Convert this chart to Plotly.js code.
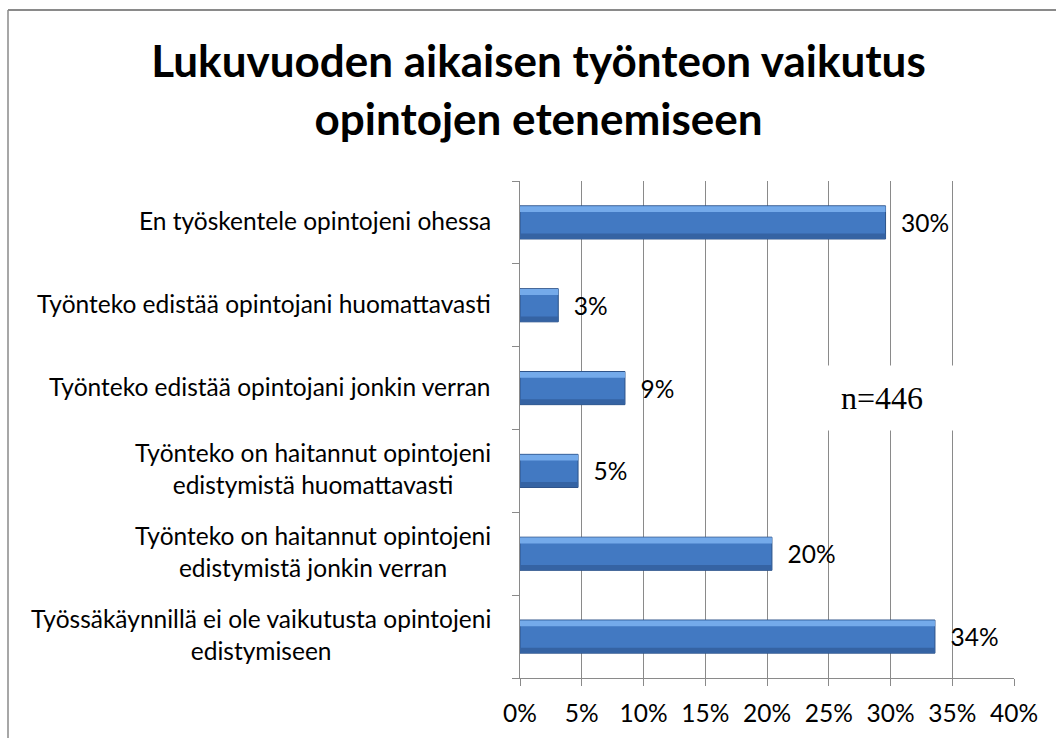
<!DOCTYPE html>
<html>
<head>
<meta charset="utf-8">
<script src="https://cdn.plot.ly/plotly-3.0.1.min.js"></script>
<style>html,body{margin:0;padding:0;background:#fff;}#chart{width:1056px;height:738px;}</style>
</head>
<body>
<div id="chart"></div>
<script>
// Data (shares of respondents, n=446)
const categories = [
  "En työskentele opintojeni ohessa",
  "Työnteko edistää opintojani huomattavasti",
  "Työnteko edistää opintojani jonkin verran",
  "Työnteko on haitannut opintojeni<br>edistymistä huomattavasti",
  "Työnteko on haitannut opintojeni<br>edistymistä jonkin verran",
  "Työssäkäynnillä ei ole vaikutusta opintojeni<br>edistymiseen"
];
const shares = [0.296, 0.031, 0.085, 0.047, 0.204, 0.336];
const xTickValues = [0, 0.05, 0.10, 0.15, 0.20, 0.25, 0.30, 0.35, 0.40];
const titleText = "Lukuvuoden aikaisen työnteon vaikutus<br>opintojen etenemiseen";
const noteText = "n=446";

const idx = categories.map((c, i) => i);
const labelFont = {family: "Lato, 'Open Sans', sans-serif", size: 24.5, color: "#000"};

const mainBar = {
  type: "bar", orientation: "h",
  x: shares, y: idx,
  width: 0.4,
  marker: {color: "#4279c2", line: {color: "#2c5288", width: 1}},
  texttemplate: "\u00A0\u00A0%{x:.0%}",
  textposition: "outside",
  constraintext: "none",
  cliponaxis: false,
  textfont: labelFont,
  hoverinfo: "skip"
};
const topHighlight = {
  type: "bar", orientation: "h",
  x: shares, y: idx,
  width: 0.07, offset: -0.195,
  marker: {color: "#74aaea", line: {width: 0}},
  hoverinfo: "skip"
};
const bottomShade = {
  type: "bar", orientation: "h",
  x: shares, y: idx,
  width: 0.06, offset: 0.135,
  marker: {color: "#3563a3", line: {width: 0}},
  hoverinfo: "skip"
};

const annotations = categories.map((c, i) => ({
  xref: "paper", yref: "y", x: 0, y: i,
  xanchor: "right", yanchor: "middle", xshift: -27, yshift: 2,
  text: c, align: "center", showarrow: false, font: labelFont
}));
annotations.push({
  xref: "x", yref: "paper", x: 0.293, y: 0.563,
  xanchor: "center", yanchor: "middle",
  text: noteText, showarrow: false,
  bgcolor: "#ffffff", width: 200, height: 62,
  font: {family: "'Liberation Serif', 'Times New Roman', serif", size: 32, color: "#000"}
});

const borderColor = "#8a8a8a";
const bx0 = (8 - 520) / 494, by1 = (678 - 10) / 497;

const layout = {
  width: 1056, height: 738,
  margin: {l: 520, r: 42, t: 181, b: 60},
  paper_bgcolor: "#fff", plot_bgcolor: "#fff",
  barmode: "overlay",
  showlegend: false,
  title: {
    text: titleText,
    x: 0.51, xanchor: "center", xref: "container",
    y: 0.895, yanchor: "top", yref: "container",
    font: {family: "Lato, 'Open Sans', sans-serif", size: 44, weight: "bold", color: "#000"}
  },
  xaxis: {
    range: [0, 0.4], tickvals: xTickValues, tickformat: ".0%",
    showgrid: true, gridcolor: "#8a8a8a", gridwidth: 1,
    showline: true, linecolor: "#8a8a8a", linewidth: 1,
    ticks: "outside", ticklen: 7, tickcolor: "#8a8a8a",
    tickfont: labelFont, zeroline: false, fixedrange: true,
    ticklabelstandoff: 7
  },
  yaxis: {
    type: "linear", range: [5.5, -0.5],
    tickvals: [-0.5, 0.5, 1.5, 2.5, 3.5, 4.5, 5.5],
    showticklabels: false,
    showgrid: false, zeroline: false,
    showline: true, linecolor: "#8a8a8a", linewidth: 1,
    ticks: "outside", ticklen: 7, tickcolor: "#8a8a8a",
    fixedrange: true
  },
  annotations: annotations,
  shapes: [
    {type: "line", xref: "paper", yref: "paper", x0: bx0, x1: 1.2, y0: by1, y1: by1,
     line: {color: borderColor, width: 2}, layer: "above"},
    {type: "line", xref: "paper", yref: "paper", x0: bx0, x1: bx0, y0: -0.3, y1: by1,
     line: {color: borderColor, width: 1.5}, layer: "above"}
  ]
};

Plotly.newPlot("chart", [mainBar, topHighlight, bottomShade], layout, {displayModeBar: false, staticPlot: true});
</script>
</body>
</html>
